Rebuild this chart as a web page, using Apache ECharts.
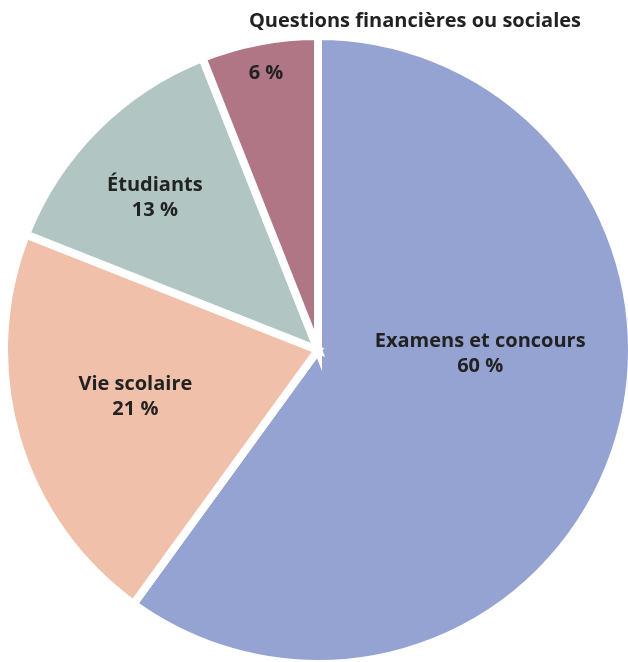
<!DOCTYPE html>
<html>
<head>
<meta charset="utf-8">
<script src="https://cdn.jsdelivr.net/npm/echarts@6/dist/echarts.min.js"></script>
<style>
  html, body { margin: 0; padding: 0; background: #ffffff; }
  #chart { width: 628px; height: 662px; }
</style>
</head>
<body>
<div id="chart"></div>
<script>
// Répartition des saisines par thème
const categories = ['Examens et concours', 'Vie scolaire', 'Étudiants', 'Questions financières ou sociales'];
const values = [60, 21, 13, 6];
const colors = ['#94a3d1', '#f1c0aa', '#b1c5c3', '#b07686'];

// Label offsets from the default inside position of each slice
const labelOffsets = [[10, -46], [-29, 2], [-50, -39], [-22, -120]];

const FONT = '"Open Sans", sans-serif';

const chart = echarts.init(document.getElementById('chart'), null, { renderer: 'canvas' });

const data = categories.map((name, i) => {
  const item = {
    name: name,
    value: values[i],
    itemStyle: { color: colors[i] },
    label: { offset: labelOffsets[i] }
  };
  if (i === 3) {
    // The small slice only shows its share; its name sits above the pie
    item.label.formatter = p => p.value + ' %';
  }
  return item;
});

chart.setOption({
  animation: false,
  backgroundColor: '#ffffff',
  title: {
    text: categories[3],
    left: 410,
    top: 6,
    textAlign: 'center',
    textStyle: {
      fontFamily: FONT,
      fontWeight: 'bold',
      fontSize: 20,
      color: '#222222'
    }
  },
  series: [{
    type: 'pie',
    center: [318, 350],
    radius: [0, 314],
    startAngle: 90,
    clockwise: true,
    avoidLabelOverlap: false,
    itemStyle: {
      borderColor: '#ffffff',
      borderWidth: 8,
      borderJoin: 'miter'
    },
    label: {
      show: true,
      position: 'inside',
      formatter: p => p.name + '\n' + p.value + ' %',
      fontFamily: FONT,
      fontWeight: 'bold',
      fontSize: 20,
      lineHeight: 25,
      color: '#222222',
      align: 'center'
    },
    labelLine: { show: false },
    emphasis: { disabled: true },
    data: data
  }]
});
</script>
</body>
</html>
